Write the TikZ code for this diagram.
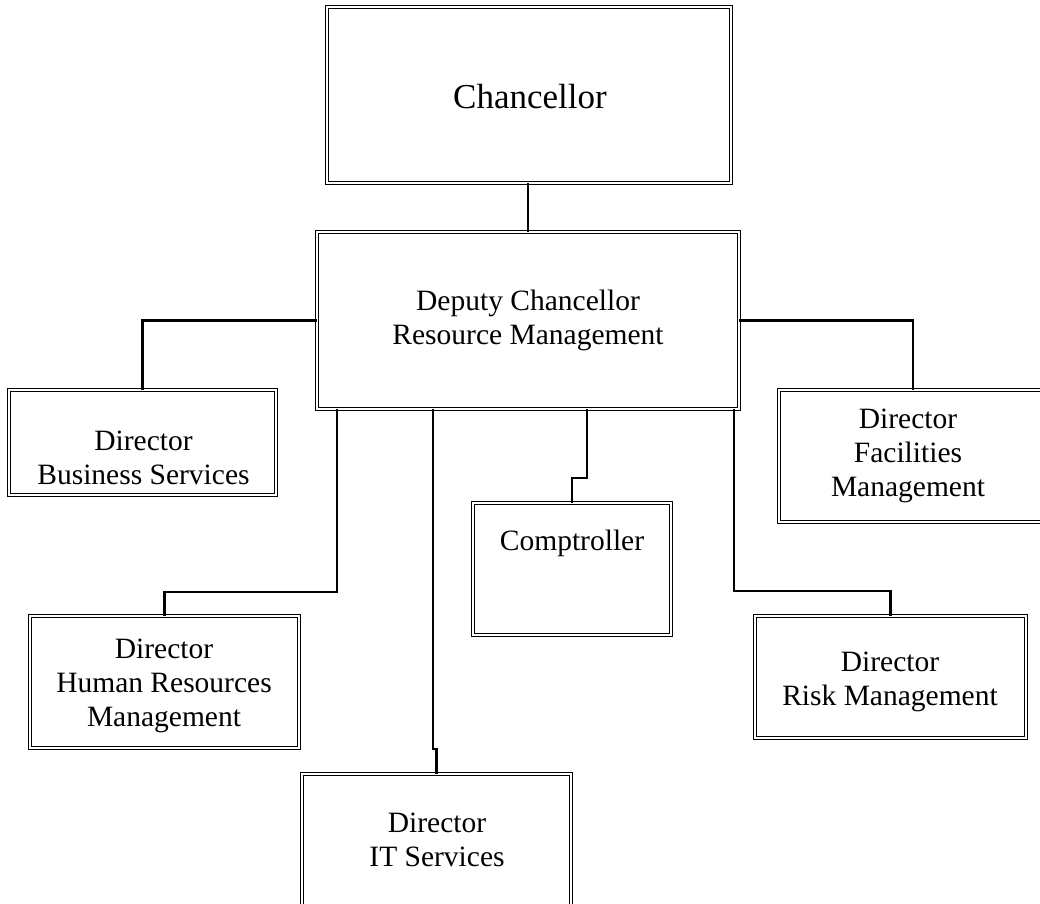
\documentclass[tikz,border=0pt]{standalone}
\usepackage{fontspec}
\setmainfont{Liberation Serif}
\begin{document}
\begin{tikzpicture}[x=1pt,y=-1pt,
  box/.style={draw=black, line width=0.8pt, double=white, double distance=2.2pt, inner sep=0pt, fill=white},
  txt/.style={align=center, inner sep=0pt, font=\fontsize{29.5}{34}\selectfont},
  conn/.style={line width=2.6pt, line cap=butt, line join=miter}]
\useasboundingbox (0,0) rectangle (1040,903);
\clip (0,0) rectangle (1040,903);
% boxes (outer size minus double-line width)
\node[box, minimum width=404pt, minimum height=176pt] (chan) at (529,95) {};
\node[box, minimum width=422pt, minimum height=177pt] (dep) at (528,320.5) {};
\node[box, minimum width=267pt, minimum height=105pt] (bus) at (142.5,442.5) {};
\node[box, minimum width=268pt, minimum height=132pt] (fac) at (913,456) {};
\node[box, minimum width=198pt, minimum height=132pt] (comp) at (572,569) {};
\node[box, minimum width=269pt, minimum height=132pt] (hr) at (164.5,682) {};
\node[box, minimum width=271pt, minimum height=122pt] (risk) at (890.5,677) {};
\node[box, minimum width=269pt, minimum height=144pt] (it) at (436.5,846) {};
% texts
\node[txt, font=\fontsize{35}{40}\selectfont] (chant) at (530,97) {Chancellor};
\node[txt] (dept) at (528,320) {Deputy Chancellor\\Resource Management};
\node[txt] (bust) at (143.5,458) {Director\\Business Services};
\node[txt] (fact) at (908,456) {Director\\Facilities\\Management};
\node[txt] (compt) at (572,543) {Comptroller};
\node[txt] (hrt) at (164,686) {Director\\Human Resources\\Management};
\node[txt] (riskt) at (890,682) {Director\\Risk Management};
\node[txt] (itt) at (437,840) {Director\\IT Services};
% joints
\coordinate (hrj) at (337,592);
\coordinate (itj) at (433,749);
\coordinate (cj) at (587,478);
\coordinate (rj) at (734,591);
% connectors
\draw[conn] (dep.north) -- (dep.north |- chan.south);
\draw[conn] (dep.west) -| (bus.north);
\draw[conn] (dep.east) -| (fac.north);
\draw[conn] (hrj |- dep.south) -- (hrj) -| (hr.north);
\draw[conn] (itj |- dep.south) -- (itj) -| (it.north);
\draw[conn] (cj |- dep.south) -- (cj) -| (comp.north);
\draw[conn] (rj |- dep.south) -- (rj) -| (risk.north);
\end{tikzpicture}
\end{document}
